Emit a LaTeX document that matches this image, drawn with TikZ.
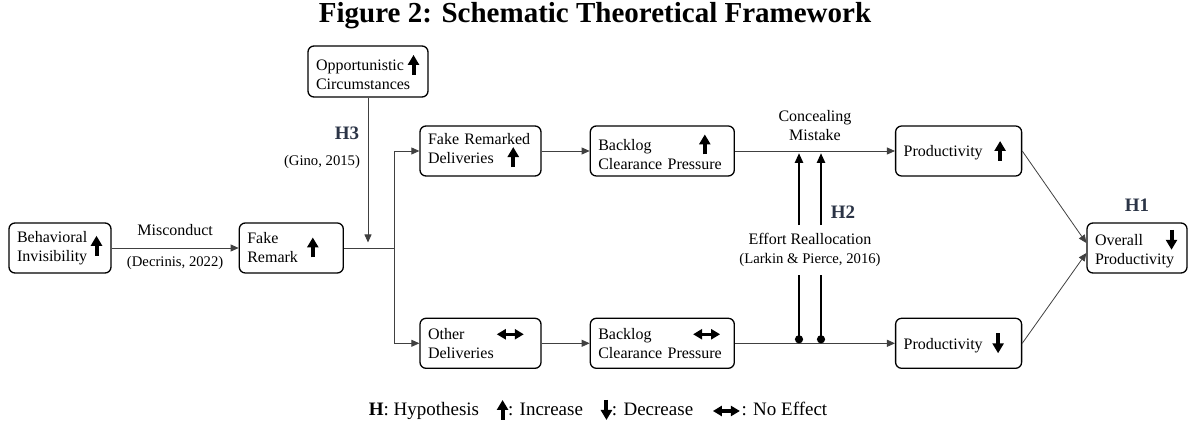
\documentclass[tikz,border=0pt]{standalone}
\usepackage{fontspec}
\setmainfont{Liberation Serif}
\usepackage{xcolor}
\usetikzlibrary{positioning,arrows.meta,calc}

\definecolor{hypblue}{HTML}{2B3446}

\newcommand{\boxfont}{\fontsize{16pt}{19pt}\selectfont}
\newcommand{\citefont}{\fontsize{14.7pt}{17pt}\selectfont}
%% effect glyphs
\newcommand{\incr}{\tikz[baseline={(0pt,4pt)}]\draw[line width=4pt,black,sharp corners,solid,-{Triangle[length=10pt,width=11pt]}] (0pt,0pt) -- (0pt,20pt);}
\newcommand{\decr}{\tikz[baseline={(0pt,4pt)}]\draw[line width=4pt,black,sharp corners,solid,-{Triangle[length=10pt,width=11pt]}] (0pt,20pt) -- (0pt,0pt);}
\newcommand{\noeff}{\tikz[baseline={(0pt,-5pt)}]\draw[line width=3.4pt,black,sharp corners,solid,{Triangle[length=9pt,width=10pt]}-{Triangle[length=9pt,width=10pt]}] (0pt,0pt) -- (27pt,0pt);}

\begin{document}
\begin{tikzpicture}[
  x=1pt, y=1pt,
  box/.style={draw, line width=1.3pt, rounded corners=6pt, minimum height=50pt,
              inner xsep=8pt, inner ysep=0pt, align=left, font=\boxfont},
  lbl/.style={font=\boxfont, align=center, inner sep=0pt},
  cite/.style={font=\citefont, align=center, inner sep=0pt},
  hyp/.style={font=\fontsize{19pt}{21pt}\selectfont\bfseries, text=hypblue, inner sep=0pt},
  arr/.style={-{Triangle[length=8pt,width=7pt]}, line width=0.8pt, draw=black!75},
  link/.style={line width=0.8pt, draw=black!75},
  realloc/.style={line width=2.6pt, black}
]
\useasboundingbox (0,0) rectangle (1188,430);

%% Title
\node[font=\fontsize{29pt}{31pt}\selectfont\bfseries] (ttl) at (595,414)
  {Figure 2: Schematic Theoretical Framework};

%% Left part
\node[box, text width=86pt] (nbinv) at (60,182)
  {Behavioral\hfill\smash{\raisebox{-9.5pt}{\incr}}\hspace*{1pt}\null\\Invisibility};
\node[box, text width=88pt, right=127pt of nbinv] (nfr)
  {Fake\hfill\smash{\raisebox{-9.5pt}{\incr}}\hspace*{17pt}\null\\Remark};
\node[box, text width=104pt, minimum height=51pt] (nopp) at (368,358.5)
  {Opportunistic\hfill\incr\hspace*{1pt}\null\\Circumstances};

\draw[arr] (nbinv) -- node[lbl, above=11.5pt] (lmisc) {Misconduct}
  node[cite, below=8pt] (ldecr) {(Decrinis, 2022)} (nfr);

%% Upper and lower chains
\node[box, text width=105pt] (nfrd) at (480.5,279)
  {Fake Remarked\\Deliveries\hspace{14pt}\incr};
\node[box, text width=128pt, right=48pt of nfrd] (nbcp1)
  {Backlog\hfill\incr\hspace*{16pt}\null\\Clearance Pressure};
\node[box, text width=110pt, right=160pt of nbcp1] (nprodup)
  {Productivity\hfill\incr\hspace*{8pt}\null};

\node[box, text width=105pt, below=141pt of nfrd] (nod)
  {Other\hfill\noeff\hspace*{7.5pt}\null\\Deliveries};
\node[box, text width=128pt, below=141pt of nbcp1] (nbcp2)
  {Backlog\hfill\noeff\hspace*{4.5pt}\null\\Clearance Pressure};
\node[box, text width=110pt, below=141pt of nprodup] (nproddn)
  {Productivity\hfill\decr\hspace*{10pt}\null};

\node[box, text width=84pt] (novr) at (1137,182)
  {Overall\hfill\decr\hspace*{2pt}\null\\Productivity};
\node[hyp, above=11pt of novr] (lh1) {H1};

%% Split after fake remark
\coordinate (nsplit) at ($(nfr.east)+(50pt,0)$);
\draw[link] (nfr) -- (nsplit);
\draw[arr] (nsplit) |- (nfrd);
\draw[arr] (nsplit) |- (nod);

%% Moderator H3
\coordinate (nmod) at (368,187.5);
\draw[arr] (nopp) -- (nmod);
\node[hyp] (lh3) at (347,297) {H3};
\node[cite] (lgino) at (322,268) {(Gino, 2015)};

\draw[arr] (nfrd) -- (nbcp1);
\draw[arr] (nbcp1) -- node[lbl, above=10pt] (lconc) {Concealing\\Mistake} (nprodup);
\draw[arr] (nod) -- (nbcp2);
\draw[arr] (nbcp2) -- (nproddn);

\draw[arr] (nprodup.east) -- ([yshift=5pt]novr.west);
\draw[arr] (nproddn.east) -- ([yshift=-5pt]novr.west);

%% Effort reallocation H2
\node[lbl, inner ysep=8pt] (leff) at (810,180)
  {Effort Reallocation\\{\citefont (Larkin \& Pierce, 2016)}};
\node[hyp] (lh2) at (843,218) {H2};
\coordinate (nra) at ([xshift=-11pt]leff.south |- nbcp2.east);
\coordinate (nrb) at ([xshift=11pt]leff.south |- nbcp2.east);
\draw[realloc, {Circle[length=8pt]}-] (nra) -- (nra |- leff.south);
\draw[realloc, {Circle[length=8pt]}-] (nrb) -- (nrb |- leff.south);
\draw[realloc, -{Triangle[length=10pt,width=8pt]}, shorten >=2pt] (nra |- leff.north) -- (nra |- nbcp1.east);
\draw[realloc, -{Triangle[length=10pt,width=8pt]}, shorten >=2pt] (nrb |- leff.north) -- (nrb |- nbcp1.east);

%% Legend
\node[font=\fontsize{19pt}{21pt}\selectfont, inner sep=0pt] (lgd) at (598,20)
  {\textbf{H}: Hypothesis\hspace{18pt}\incr: Increase\hspace{18pt}\decr: Decrease\hspace{18pt}\noeff: No Effect};
\end{tikzpicture}
\end{document}
